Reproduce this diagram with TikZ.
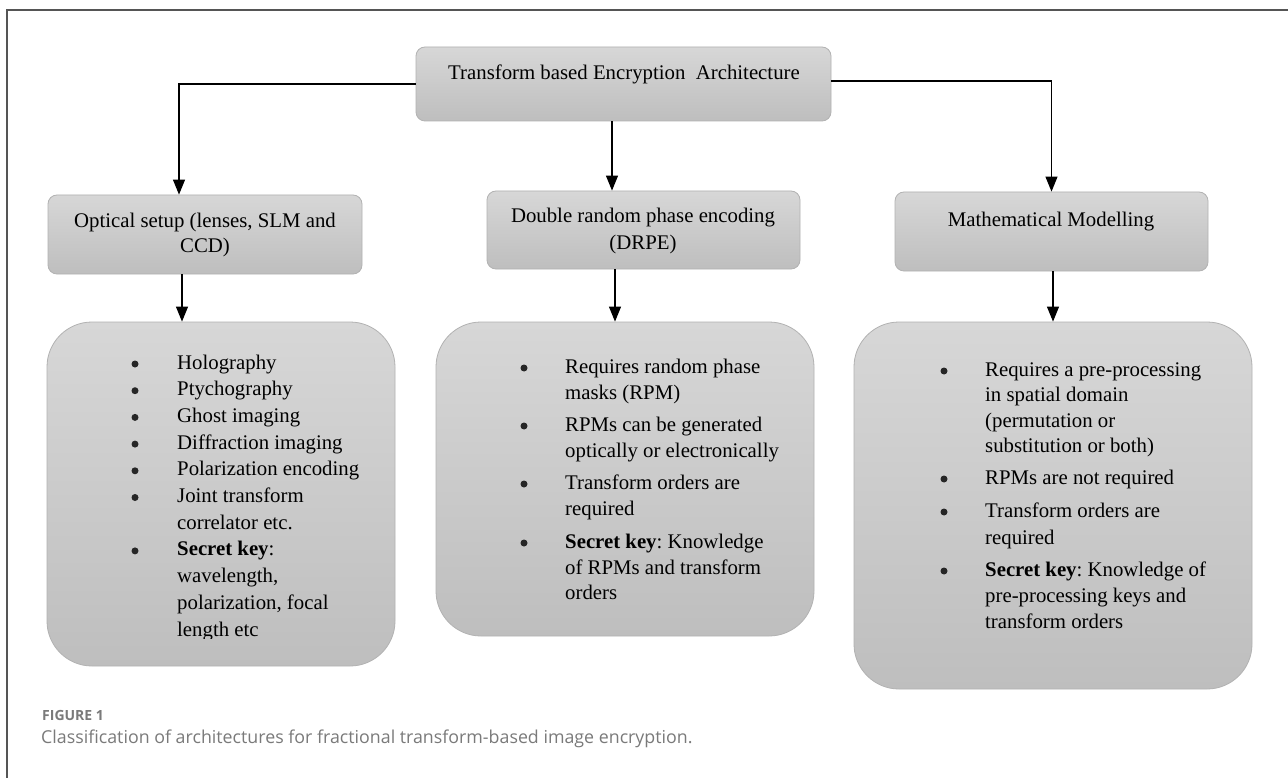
\documentclass[tikz,border=0pt]{standalone}
\usepackage{fontspec}
\setmainfont{Liberation Serif}
\newfontfamily\capfont{Open Sans}
\usetikzlibrary{arrows.meta}
\frenchspacing
\definecolor{framec}{HTML}{555555}
\definecolor{boxtop}{HTML}{D7D7D7}
\definecolor{boxbot}{HTML}{BEBEBE}
\definecolor{boxline}{HTML}{B2B2B2}
\definecolor{capgray}{HTML}{7A7A7A}
\tikzset{
  lbl/.style={draw=boxline, line width=0.8pt, rounded corners=9pt, top color=boxtop, bottom color=boxbot, inner sep=0pt},
  lst/.style={draw=boxline, line width=0.8pt, rounded corners=45pt, top color=boxtop, bottom color=boxbot, inner sep=0pt},
  txt/.style={font=\fontsize{20.8}{25}\selectfont, inner sep=0pt, anchor=base},
  itm/.style={font=\fontsize{20.8}{26}\selectfont, inner sep=0pt, anchor=base west},
  bul/.style={circle, fill=black!85, inner sep=0pt, minimum size=7pt},
  arr/.style={line width=1.1pt, -{Triangle[length=15pt,width=12pt]}},
}
\begin{document}
\begin{tikzpicture}[x=1pt,y=-1pt]
\useasboundingbox (0,0) rectangle (1288,778);
\fill[white] (0,0) rectangle (1288,778);
\draw[framec, line width=1.3pt] (7,778) -- (7,10) -- (1288,10);

% label boxes
\node[lbl, minimum width=415pt, minimum height=74pt] (top) at (623.5,84) {};
\node[lbl, minimum width=314pt, minimum height=79pt] (opt) at (205,234.5) {};
\node[lbl, minimum width=313pt, minimum height=78pt] (drpe) at (643.5,230) {};
\node[lbl, minimum width=313pt, minimum height=79pt] (math) at (1051.5,231.5) {};

\node[txt] (ttop) at (624,80) {Transform based Encryption \ Architecture};
\node[txt] (topt1) at (205,228) {Optical setup (lenses, SLM and};
\node[txt] (topt2) at (205,253) {CCD)};
\node[txt] (tdr1) at (643,223) {Double random phase encoding};
\node[txt] (tdr2) at (643,250) {(DRPE)};
\node[txt] (tmath) at (1051,227) {Mathematical Modelling};

% list boxes
\node[lst, minimum width=348pt, minimum height=344pt] (lst1) at (221,494) {};
\node[lst, minimum width=378pt, minimum height=314pt] (lst2) at (625,479) {};
\node[lst, minimum width=398pt, minimum height=367pt] (lst3) at (1053,505.5) {};

% connectors
\draw[arr] (top.west) -| ([xshift=-26pt]opt.north);
\draw[arr] ([xshift=-11.5pt]top.south) -- ([xshift=-11.5pt]top.south |- drpe.north);
\draw[arr] ([yshift=3pt]top.east) -| (math.north);
\draw[arr] ([xshift=-23pt]opt.south) -- ([xshift=-23pt]opt.south |- lst1.north);
\draw[arr] ([xshift=-28.5pt]drpe.south) -- ([xshift=-28.5pt]drpe.south |- lst2.north);
\draw[arr] ([xshift=1.5pt]math.south) -- ([xshift=1.5pt]math.south |- lst3.north);

% left list
\node[bul] (lb1) at (135,364) {};
\node[bul] (lb2) at (135,390.7) {};
\node[bul] (lb3) at (135,417.4) {};
\node[bul] (lb4) at (135,444.1) {};
\node[bul] (lb5) at (135,470.8) {};
\node[bul] (lb6) at (135,497.5) {};
\node[bul] (lb7) at (135,550.9) {};
\node[itm] (l1) at (177,369) {Holography};
\node[itm] (l2) at (177,395.7) {Ptychography};
\node[itm] (l3) at (177,422.4) {Ghost imaging};
\node[itm] (l4) at (177,449.1) {Diffraction imaging};
\node[itm] (l5) at (177,475.8) {Polarization encoding};
\node[itm] (l6) at (177,502.5) {Joint transform};
\node[itm] (l7) at (177,529.2) {correlator etc.};
\node[itm] (l8) at (177,555.9) {\textbf{Secret key}:};
\node[itm] (l9) at (177,582.6) {wavelength,};
\node[itm] (l10) at (177,609.3) {polarization, focal};
\begin{scope}
\clip (150,600) rectangle (390,638);
\node[itm] (l11) at (177,636) {length etc};
\end{scope}

% middle list
\node[bul] (mb1) at (524,368) {};
\node[bul] (mb2) at (524,426) {};
\node[bul] (mb3) at (524,484) {};
\node[bul] (mb4) at (524,543) {};
\node[itm] (m1) at (565,373) {Requires random phase};
\node[itm] (m2) at (565,399) {masks (RPM)};
\node[itm] (m3) at (565,431) {RPMs can be generated};
\node[itm] (m4) at (565,457) {optically or electronically};
\node[itm] (m5) at (565,489) {Transform orders are};
\node[itm] (m6) at (565,515) {required};
\node[itm] (m7) at (565,548) {\textbf{Secret key}: Knowledge};
\node[itm] (m8) at (565,574) {of RPMs and transform};
\node[itm] (m9) at (565,599) {orders};

% right list
\node[bul] (rb1) at (944,371) {};
\node[bul] (rb2) at (944,479) {};
\node[bul] (rb3) at (944,512) {};
\node[bul] (rb4) at (944,571) {};
\node[itm] (r1) at (985,376) {Requires a pre-processing};
\node[itm] (r2) at (985,401) {in spatial domain};
\node[itm] (r3) at (985,427) {(permutation or};
\node[itm] (r4) at (985,452) {substitution or both)};
\node[itm] (r5) at (985,484) {RPMs are not required};
\node[itm] (r6) at (985,517) {Transform orders are};
\node[itm] (r7) at (985,544) {required};
\node[itm] (r8) at (985,576) {\textbf{Secret key}: Knowledge of};
\node[itm] (r9) at (985,602) {pre-processing keys and};
\node[itm] (r10) at (985,628) {transform orders};

% caption
\node[anchor=base west, inner sep=0pt, text=capgray, font=\capfont\bfseries\fontsize{14}{16}\selectfont] (fig) at (42,720) {FIGURE 1};
\node[anchor=base west, inner sep=0pt, text=capgray, font=\capfont\fontsize{17.8}{20}\selectfont] (cap) at (41,743) {Classification of architectures for fractional transform-based image encryption.};
\end{tikzpicture}
\end{document}
